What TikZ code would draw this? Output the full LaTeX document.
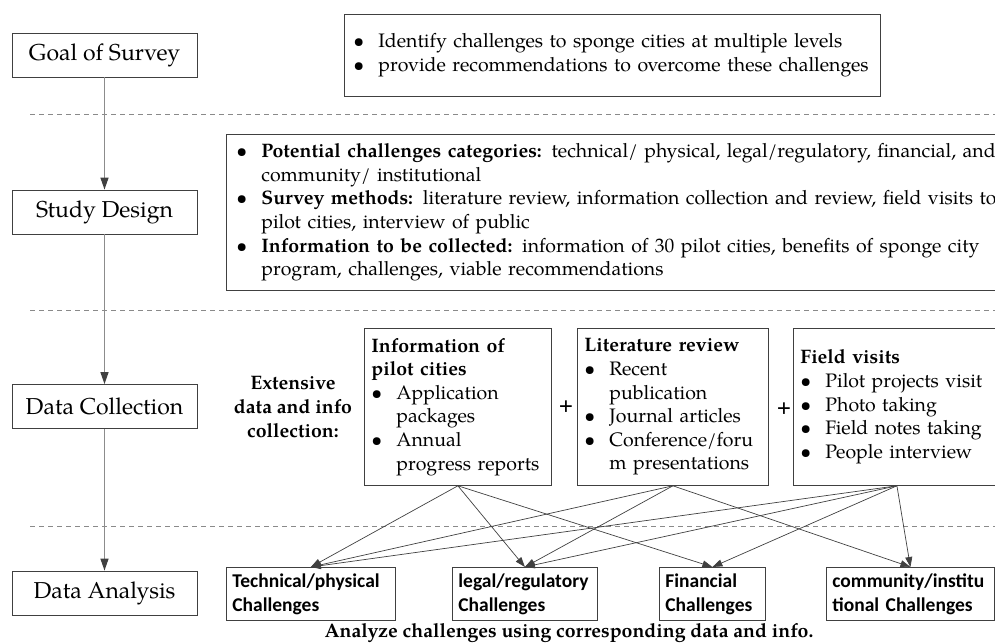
\documentclass[tikz,border=0pt]{standalone}
\usepackage{fontspec}
\setmainfont{TeX Gyre Pagella}
\newfontfamily\calib{Carlito}
\usetikzlibrary{arrows.meta,positioning}

\definecolor{boxgray}{HTML}{404040}
\definecolor{stemgray}{HTML}{8C8C8C}
\definecolor{dashgray}{HTML}{8A8A8A}

\newlength\bulw
\setlength\bulw{25pt}
\newcommand{\bitem}[1]{\makebox[\bulw][l]{\textbullet}#1}
\newcommand{\bnext}[1]{\hspace*{\bulw}#1}

\begin{document}
\hyphenpenalty=10000
\exhyphenpenalty=10000
\begin{tikzpicture}
[x=1pt,y=-1pt]
\tikzset{
	stage/.style = {draw=boxgray, line width=0.8pt, minimum width=185pt, minimum height=44pt, inner sep=0pt, font=\fontsize{23}{27}\selectfont},
	textbox/.style = {draw=boxgray, line width=0.8pt, anchor=north west, align=left, font=\fontsize{19.5}{23.6}\selectfont},
	challenge/.style = {draw=boxgray, line width=0.8pt, anchor=north west, align=left, minimum height=53pt, inner xsep=6pt, font=\calib\bfseries\fontsize{19.5}{24}\selectfont},
	stepline/.style = {draw=stemgray, line width=1.3pt, -{Triangle[length=12pt,width=8pt,color=boxgray]}},
	link/.style = {draw=boxgray, line width=0.7pt, -{Triangle[length=10pt,width=7pt]}},
	sepline/.style = {draw=dashgray, line width=0.8pt, dash pattern=on 5pt off 4pt}
}
\useasboundingbox (0,0) rectangle (995,644);

\draw[sepline] (30,114) -- (995,114);
\draw[sepline] (30,310) -- (995,310);
\draw[sepline] (30,526) -- (995,526);

\node(goal) [stage] at (104.5,55) {Goal of Survey};
\node(design) [stage] at (104.5,212) {Study Design};
\node(collect) [stage] at (104.5,406.5) {Data Collection};
\node(analysis) [stage] at (104.5,593) {Data Analysis};

\draw[stepline] (goal) -- (design);
\draw[stepline] (design) -- (collect);
\draw[stepline] (collect) -- (analysis);

\node(goalbox) [textbox, text width=518pt, inner xsep=9pt, minimum height=82pt] at (344,14)
	{\bitem{Identify challenges to sponge cities at multiple levels}\\
	\bitem{provide recommendations to overcome these challenges}};

\node(designbox) [textbox, text width=800pt, inner xsep=10pt, minimum height=156pt] at (226,134)
	{\bitem{\textbf{Potential challenges categories:} technical/ physical, legal/regulatory, financial, and}\\
	\bnext{community/ institutional}\\
	\bitem{\textbf{Survey methods:} literature review, information collection and review, field visits to}\\
	\bnext{pilot cities, interview of public}\\
	\bitem{\textbf{Information to be collected:} information of 30 pilot cities, benefits of sponge city}\\
	\bnext{program, challenges, viable recommendations}};

\node(extensive) [align=center, font=\bfseries\fontsize{19.5}{23.6}\selectfont] at (293,407)
	{Extensive\\ data and info\\ collection:};

\node(info) [textbox, text width=173pt, inner xsep=7pt, minimum height=157pt] at (364,328)
	{\textbf{Information of}\\
	\textbf{pilot cities}\\
	\bitem{Application}\\
	\bnext{packages}\\
	\bitem{Annual}\\
	\bnext{progress reports}};

\node(lit) [textbox, text width=177pt, inner xsep=7pt, minimum height=157pt] at (577,328)
	{\textbf{Literature review}\\
	\bitem{Recent}\\
	\bnext{publication}\\
	\bitem{Journal articles}\\
	\bitem{Conference/foru}\\
	\bnext{m presentations}};

\node(field) [textbox, text width=193pt, inner xsep=7pt, minimum height=157pt] at (793,328)
	{\textbf{Field visits}\\
	\bitem{Pilot projects visit}\\
	\bitem{Photo taking}\\
	\bitem{Field notes taking}\\
	\bitem{People interview}};

\node(plusa) [font=\bfseries\fontsize{19.5}{23}\selectfont] at (566,407) {+};
\node(plusb) [font=\bfseries\fontsize{19.5}{23}\selectfont] at (784,409) {+};

\node(tech) [challenge, text width=157pt] at (226,567) {Technical/physical\\ Challenges};
\node(legal) [challenge, text width=133pt] at (452,567) {legal/regulatory\\ Challenges};
\node(fin) [challenge, text width=94pt] at (659,567) {Financial\\ Challenges};
\node(comm) [challenge, text width=156pt] at (826,567) {community/institu\\ tional Challenges};

\node(analyze) [font=\bfseries\fontsize{19.5}{23}\selectfont] at (569,633) {Analyze challenges using corresponding data and info.};

\foreach \src/\dst in {info/tech, info/legal, info/fin, lit/tech, lit/legal, lit/comm, field/tech, field/legal, field/fin, field/comm}
	\draw[link] (\src.south) -- (\dst.north);
\end{tikzpicture}
\end{document}
